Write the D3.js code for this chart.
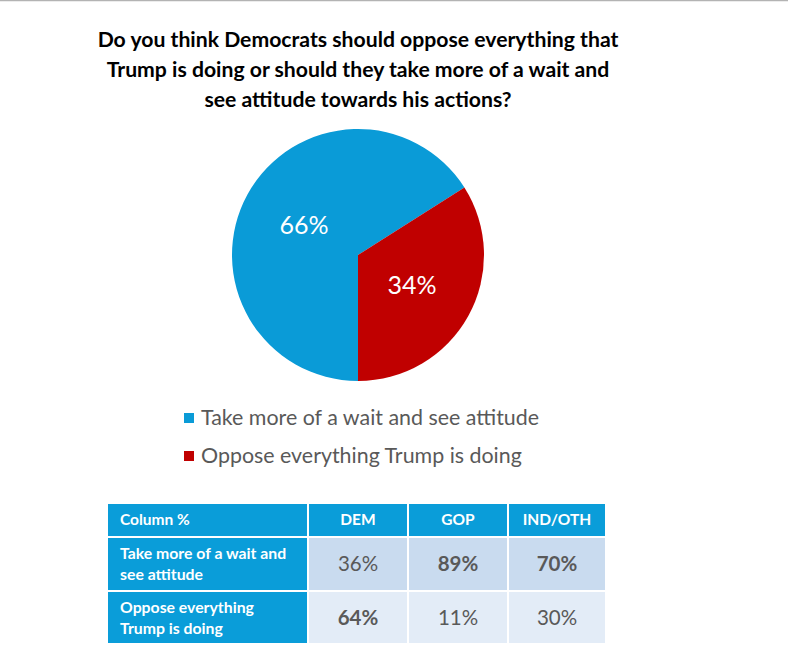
<!DOCTYPE html>
<html>
<head>
<meta charset="utf-8">
<script src="https://cdn.jsdelivr.net/npm/d3@7"></script>
<style>
  html, body { margin: 0; padding: 0; background: #fff; }
  svg { display: block; }
</style>
</head>
<body>
<svg id="chart" width="788" height="650"></svg>
<script>
// ---- data ----
const titleLines = [
  "Do you think Democrats should oppose everything that",
  "Trump is doing or should they take more of a wait and",
  "see attitude towards his actions?"
];
const pieCategories = ["Take more of a wait and see attitude", "Oppose everything Trump is doing"];
const pieValues = [66, 34];
const pieColors = ["#0a9bd7", "#c00000"];

const tableHeader = ["Column %", "DEM", "GOP", "IND/OTH"];
const tableRowLabels = [["Take more of a wait and", "see attitude"], ["Oppose everything", "Trump is doing"]];
const demValues = [36, 64];
const gopValues = [89, 11];
const indValues = [70, 30];

// ---- drawing ----
const svg = d3.select("#chart");
const FONT = "Lato, 'Open Sans', sans-serif";

// top border line
svg.append("line").attr("x1", 0).attr("x2", 788).attr("y1", 0.5).attr("y2", 0.5)
  .attr("stroke", "#b3b3b3").attr("stroke-width", 1.5);

// title
svg.append("g").selectAll("text").data(titleLines).join("text")
  .attr("x", 358).attr("y", (d, i) => 47 + i * 30)
  .attr("text-anchor", "middle")
  .attr("font-family", FONT).attr("font-weight", "bold").attr("font-size", 21.2)
  .attr("fill", "#000")
  .text(d => d);

// pie
const cx = 358, cy = 255, R = 126;
const pie = d3.pie().sort(null).startAngle(Math.PI).endAngle(3 * Math.PI);
const arcs = pie(pieValues);
const arc = d3.arc().innerRadius(0).outerRadius(R);
const labelArc = d3.arc().innerRadius(R * 0.49).outerRadius(R * 0.49);
const gp = svg.append("g").attr("transform", `translate(${cx},${cy})`);
gp.selectAll("path").data(arcs).join("path")
  .attr("d", arc).attr("fill", (d, i) => pieColors[i]);
gp.selectAll("text").data(arcs).join("text")
  .attr("transform", d => `translate(${labelArc.centroid(d)})`)
  .attr("text-anchor", "middle").attr("dy", "0.36em")
  .attr("font-family", FONT).attr("font-size", 25).attr("fill", "#fff")
  .text(d => d.data + "%");

// legend
const lg = svg.append("g");
const legY = d3.scalePoint().domain(pieCategories).range([418, 456]);
lg.selectAll("rect").data(pieCategories).join("rect")
  .attr("x", 184).attr("y", d => legY(d) - 5).attr("width", 10).attr("height", 10)
  .attr("fill", (d, i) => pieColors[i]);
lg.selectAll("text").data(pieCategories).join("text")
  .attr("x", 201).attr("y", d => legY(d)).attr("dy", "0.35em")
  .attr("font-family", FONT).attr("font-size", 21.4).attr("fill", "#595959")
  .text(d => d);

// table
const tblBlue = "#0a9dd9";
const rowFills = ["#c9dbef", "#e3ecf7"];
const colEdges = [108, 309, 409, 509, 605];
const rowEdges = [504, 538, 592, 643];
const gap = 2;
const valueCols = [demValues, gopValues, indValues];
const tg = svg.append("g");

// header row
tableHeader.forEach((h, c) => {
  const x0 = colEdges[c], x1 = colEdges[c + 1] - (c < 3 ? gap : 0);
  tg.append("rect").attr("x", x0).attr("y", rowEdges[0]).attr("width", x1 - x0)
    .attr("height", rowEdges[1] - gap - rowEdges[0]).attr("fill", tblBlue);
  tg.append("text")
    .attr("x", c === 0 ? x0 + 12 : (x0 + x1) / 2)
    .attr("y", (rowEdges[0] + rowEdges[1] - gap) / 2).attr("dy", "0.35em")
    .attr("text-anchor", c === 0 ? "start" : "middle")
    .attr("font-family", FONT).attr("font-weight", "bold").attr("font-size", 15.5)
    .attr("fill", "#fff").text(h);
});

// body rows
tableRowLabels.forEach((lines, r) => {
  const y0 = rowEdges[r + 1], y1 = rowEdges[r + 2] - (r === 0 ? gap : 0);
  const ym = (y0 + y1) / 2;
  // label cell
  tg.append("rect").attr("x", colEdges[0]).attr("y", y0)
    .attr("width", colEdges[1] - gap - colEdges[0]).attr("height", y1 - y0).attr("fill", tblBlue);
  tg.append("g").selectAll("text").data(lines).join("text")
    .attr("x", colEdges[0] + 12).attr("y", (d, i) => ym + (i - 0.5) * 21).attr("dy", "0.35em")
    .attr("font-family", FONT).attr("font-weight", "bold").attr("font-size", 15.8)
    .attr("fill", "#fff").text(d => d);
  // value cells
  valueCols.forEach((vals, c) => {
    const x0 = colEdges[c + 1], x1 = colEdges[c + 2] - (c < 2 ? gap : 0);
    const isMax = vals[r] === d3.max(vals);
    tg.append("rect").attr("x", x0).attr("y", y0).attr("width", x1 - x0)
      .attr("height", y1 - y0).attr("fill", rowFills[r]);
    tg.append("text").attr("x", (x0 + x1) / 2).attr("y", ym).attr("dy", "0.35em")
      .attr("text-anchor", "middle")
      .attr("font-family", FONT).attr("font-size", 20.5)
      .attr("font-weight", isMax ? "bold" : "normal")
      .attr("fill", "#595959").text(vals[r] + "%");
  });
});
</script>
</body>
</html>
